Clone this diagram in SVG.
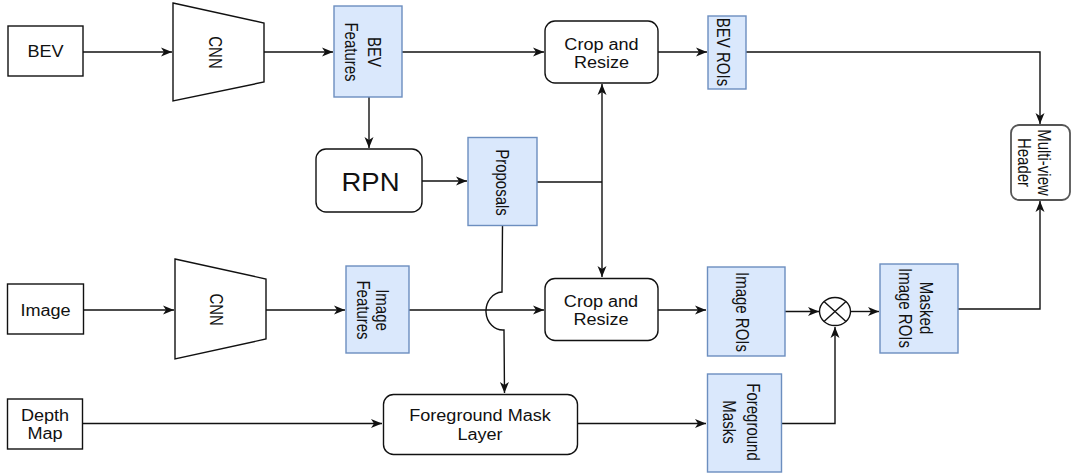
<svg xmlns="http://www.w3.org/2000/svg" width="1076" height="476" viewBox="0 0 1076 476">
<style>
.box{fill:#fff;stroke:#111;stroke-width:1.4}
.blue{fill:#dae8fc;stroke:#6c8ebf;stroke-width:1.4}
.gray{fill:#fff;stroke:#555;stroke-width:1.8}
.t{font-family:"Liberation Sans",Arial,sans-serif;font-size:16px;fill:#111;text-anchor:middle}
.v{font-family:"Liberation Sans",Arial,sans-serif;font-size:15px;fill:#111;text-anchor:middle}
.c{fill:none;stroke:#111;stroke-width:1.4}
</style>
<defs>
<marker id="ah" markerUnits="userSpaceOnUse" markerWidth="12" markerHeight="10" viewBox="0 0 12 10" refX="11" refY="5" orient="auto">
<path d="M0,0.5 L11,5 L0,9.5 L3,5 Z" fill="#111"/>
</marker>
</defs>
<rect width="1076" height="476" fill="#fff"/>
<g id="connectors">
<path class="c" d="M83,52 L172,52" marker-end="url(#ah)"/>
<path class="c" d="M264,52 L333,52" marker-end="url(#ah)"/>
<path class="c" d="M402,52 L544,52" marker-end="url(#ah)"/>
<path class="c" d="M658,52 L707,52" marker-end="url(#ah)"/>
<path class="c" d="M746,52 L1040,52 L1040,124" marker-end="url(#ah)"/>
<path class="c" d="M369,97 L369,148" marker-end="url(#ah)"/>
<path class="c" d="M422,181 L467,181" marker-end="url(#ah)"/>
<path class="c" d="M537,182 L602,182"/>
<path class="c" d="M602,182 L602,84" marker-end="url(#ah)"/>
<path class="c" d="M602,182 L602,277" marker-end="url(#ah)"/>
<path class="c" d="M83,310 L174,310" marker-end="url(#ah)"/>
<path class="c" d="M266,310 L345,310" marker-end="url(#ah)"/>
<path class="c" d="M409,310 L544,310" marker-end="url(#ah)"/>
<path class="c" d="M658,310 L706,310" marker-end="url(#ah)"/>
<path class="c" d="M785,311.5 L819,311.5" marker-end="url(#ah)"/>
<path class="c" d="M851,311.5 L879,311.5" marker-end="url(#ah)"/>
<path class="c" d="M958,309 L1040,309 L1040,201" marker-end="url(#ah)"/>
<path class="c" d="M502.5,226 L502,292 A17,19 0 0 0 504,330 L504.5,393" marker-end="url(#ah)"/>
<path class="c" d="M83,423.5 L382,423.5" marker-end="url(#ah)"/>
<path class="c" d="M577,423.5 L706,423.5" marker-end="url(#ah)"/>
<path class="c" d="M782,423.5 L835,423.5 L835,327" marker-end="url(#ah)"/>
</g>
<g id="bev">
<rect class="box" x="8" y="26" width="75" height="50"/>
<text class="t" transform="translate(45.5,57.3) scale(1.13,1)">BEV</text>
</g>
<g id="cnn1">
<polygon class="box" points="173,3 264,23 264,82 173,101"/>
<text class="v" transform="translate(208.5,52.5) rotate(90) scale(1,1.2)">CNN</text>
</g>
<g id="bev-features">
<rect class="blue" x="334" y="6" width="68" height="91"/>
<text class="v" transform="translate(368.3,52) rotate(90) scale(1,1.2)"><tspan x="0" y="0">BEV</tspan><tspan x="0" y="19.4">Features</tspan></text>
</g>
<g id="crop1">
<rect class="box" x="545" y="21" width="113" height="62" rx="10"/>
<text class="t" transform="translate(601.5,50) scale(1.13,1)"><tspan x="0" y="0">Crop and</tspan><tspan x="0" y="18.3">Resize</tspan></text>
</g>
<g id="bev-rois">
<rect class="blue" x="708" y="16" width="38" height="73"/>
<text class="v" transform="translate(716.5,52) rotate(90) scale(1,1.2)">BEV ROIs</text>
</g>
<g id="multiview">
<rect class="gray" x="1011" y="125" width="59" height="75" rx="8"/>
<text class="v" transform="translate(1038.3,162.5) rotate(90) scale(1,1.2)"><tspan x="0" y="0">Multi-view</tspan><tspan x="0" y="16.7">Header</tspan></text>
</g>
<g id="rpn">
<rect class="box" x="316" y="149" width="106" height="63" rx="10"/>
<text class="t" transform="translate(370.5,190.5) scale(1.1,1)" style="font-size:25px">RPN</text>
</g>
<g id="proposals">
<rect class="blue" x="468" y="137.5" width="69" height="88"/>
<text class="v" transform="translate(495.5,182.5) rotate(90) scale(1,1.2)">Proposals</text>
</g>
<g id="image">
<rect class="box" x="7.5" y="284" width="76" height="50"/>
<text class="t" transform="translate(45.5,315.5) scale(1.13,1)">Image</text>
</g>
<g id="cnn2">
<polygon class="box" points="175,259 266,279 266,339 175,359"/>
<text class="v" transform="translate(209.5,309.7) rotate(90) scale(1,1.2)">CNN</text>
</g>
<g id="image-features">
<rect class="blue" x="346" y="266" width="63" height="87"/>
<text class="v" transform="translate(376.4,310) rotate(90) scale(1,1.2)"><tspan x="0" y="0">Image</tspan><tspan x="0" y="16.4">Features</tspan></text>
</g>
<g id="crop2">
<rect class="box" x="545" y="278.5" width="113" height="62" rx="10"/>
<text class="t" transform="translate(601,306.7) scale(1.13,1)"><tspan x="0" y="0">Crop and</tspan><tspan x="0" y="18.3">Resize</tspan></text>
</g>
<g id="image-rois">
<rect class="blue" x="707.5" y="267" width="77.5" height="89"/>
<text class="v" transform="translate(736.4,312) rotate(90) scale(1,1.2)">Image ROIs</text>
</g>
<g id="multiply">
<ellipse cx="835" cy="311.5" rx="15.5" ry="14" fill="#fff" stroke="#111" stroke-width="1.4"/>
<path class="c" d="M824,301.6 L846,321.4 M846,301.6 L824,321.4"/>
</g>
<g id="masked-image-rois">
<rect class="blue" x="880" y="264" width="78" height="89"/>
<text class="v" transform="translate(920,308) rotate(90) scale(1,1.2)"><tspan x="0" y="0">Masked</tspan><tspan x="0" y="17.7">Image ROIs</tspan></text>
</g>
<g id="depth-map">
<rect class="box" x="7.5" y="399" width="75" height="50"/>
<text class="t" transform="translate(45,421) scale(1.13,1)"><tspan x="0" y="0">Depth</tspan><tspan x="0" y="18">Map</tspan></text>
</g>
<g id="foreground-mask-layer">
<rect class="box" x="383.5" y="394.5" width="194" height="60" rx="10"/>
<text class="t" transform="translate(480,421) scale(1.13,1)"><tspan x="0" y="0">Foreground Mask</tspan><tspan x="0" y="19">Layer</tspan></text>
</g>
<g id="foreground-masks">
<rect class="blue" x="707.5" y="374" width="74" height="98"/>
<text class="v" transform="translate(747,422) rotate(90) scale(1,1.2)"><tspan x="0" y="0">Foreground</tspan><tspan x="0" y="20.3">Masks</tspan></text>
</g>
</svg>
